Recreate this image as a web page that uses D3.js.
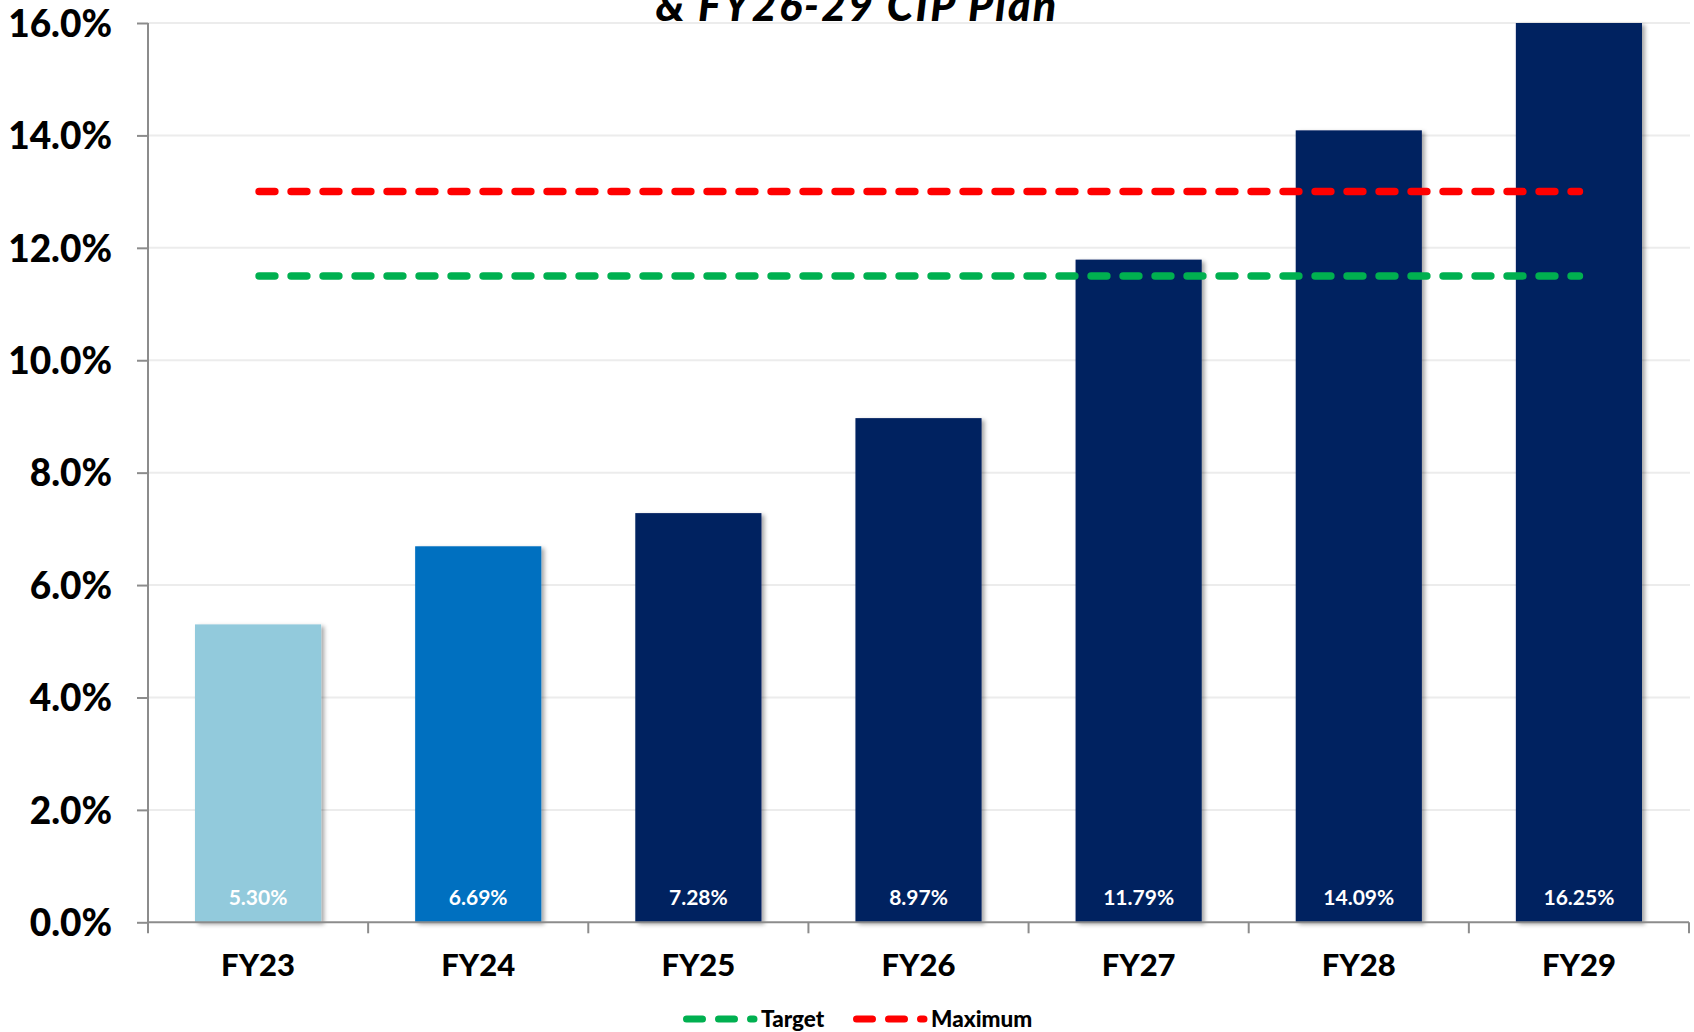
<!DOCTYPE html>
<html><head><meta charset="utf-8">
<script src="https://cdn.jsdelivr.net/npm/d3@7"></script>
<style>
html,body{margin:0;padding:0;background:#fff;}
svg{display:block;font-family:Lato,"Liberation Sans",sans-serif;}
</style></head>
<body><svg id="c" width="1694" height="1032"></svg>
<script>
const categories = ["FY23","FY24","FY25","FY26","FY27","FY28","FY29"];
const ratioValues = [5.30, 6.69, 7.28, 8.97, 11.79, 14.09, 16.25];
const valueLabels = ["5.30%","6.69%","7.28%","8.97%","11.79%","14.09%","16.25%"];
const barColors = ["#92CADC","#0070C0","#002060","#002060","#002060","#002060","#002060"];
const targetValue = 11.5;
const maximumValue = 13.0;
const yTicks = [0,2,4,6,8,10,12,14,16];
const titleText = "& FY26-29 CIP Plan";

const svg = d3.select("#c");
const L = 148, R = 1689, T = 23, B = 922.3;
const x = d3.scaleBand().domain(categories).range([L, R]).paddingInner(0.427).paddingOuter(0.2135);
const y = d3.scaleLinear().domain([0,16]).range([B, T]).clamp(true);

const defs = svg.append("defs");
const f = defs.append("filter").attr("id","sh").attr("x","-10%").attr("y","-5%").attr("width","130%").attr("height","115%");
f.append("feDropShadow").attr("dx",3).attr("dy",2).attr("stdDeviation",2).attr("flood-color","#000").attr("flood-opacity",0.35);

// title (clipped line)
svg.append("text").attr("x",857).attr("y",21).attr("text-anchor","middle")
  .attr("font-size",43).attr("font-weight",900).attr("font-style","italic").attr("letter-spacing",2.2)
  .attr("fill","#000").text(titleText);

// gridlines
svg.append("g").selectAll("line").data(yTicks.filter(d=>d>0)).join("line")
  .attr("x1",L).attr("x2",R+1).attr("y1",d=>y(d)).attr("y2",d=>y(d))
  .attr("stroke","#ECECEC").attr("stroke-width",2);

// bars
svg.append("g").selectAll("rect").data(categories).join("rect")
  .attr("x",d=>x(d)).attr("width",x.bandwidth())
  .attr("y",(d,i)=>y(ratioValues[i])).attr("height",(d,i)=>B-y(ratioValues[i]))
  .attr("fill",(d,i)=>barColors[i]).attr("filter","url(#sh)");

// value labels
svg.append("g").selectAll("text").data(categories).join("text")
  .attr("x",d=>x(d)+x.bandwidth()/2).attr("y",B-17)
  .attr("text-anchor","middle").attr("font-size",21).attr("font-weight",700).attr("fill","#fff")
  .text((d,i)=>valueLabels[i]);

// reference lines
const step = x.step();
const lx1 = x(categories[0]) + x.bandwidth()/2, lx2 = x(categories[categories.length-1]) + x.bandwidth()/2;
[[maximumValue,"#FF0000"],[targetValue,"#00B050"]].forEach(([v,c])=>{
  svg.append("line").attr("x1",lx1+1).attr("x2",lx2+0.5).attr("y1",y(v)).attr("y2",y(v))
    .attr("stroke",c).attr("stroke-width",7.5).attr("stroke-linecap","round")
    .attr("stroke-dasharray","15.8,16.2");
});

// y axis
const yAxis = svg.append("g").attr("transform",`translate(${L},0)`)
  .call(d3.axisLeft(y).tickValues(yTicks).tickSize(11).tickFormat(d=>d.toFixed(1)+"%"));
yAxis.select(".domain").attr("stroke","#8C8C8C").attr("stroke-width",2).attr("d",`M0,${T}V${B}`);
yAxis.selectAll(".tick line").attr("stroke","#8C8C8C").attr("stroke-width",2);
yAxis.selectAll(".tick text").attr("x",-36).attr("dy","0.36em").attr("font-size",37).attr("font-weight",900)
  .attr("fill","#000").attr("font-family","Lato, sans-serif");

// x axis
const xg = svg.append("g").attr("transform",`translate(0,${B})`);
xg.append("line").attr("x1",L).attr("x2",R).attr("stroke","#8C8C8C").attr("stroke-width",2);
const bounds = d3.range(categories.length+1).map(i=>L+i*step);
xg.selectAll(".tk").data(bounds).join("line").attr("class","tk")
  .attr("x1",d=>d).attr("x2",d=>d).attr("y1",0).attr("y2",11).attr("stroke","#8C8C8C").attr("stroke-width",2);
xg.selectAll(".xl").data(categories).join("text").attr("class","xl")
  .attr("x",d=>x(d)+x.bandwidth()/2).attr("y",54).attr("text-anchor","middle")
  .attr("font-size",31).attr("font-weight",900).attr("fill","#000").text(d=>d);

// legend
const legendItems = [["Target","#00B050",683],["Maximum","#FF0000",853]];
const lg = svg.append("g");
legendItems.forEach(([name,c,lx])=>{
  lg.append("line").attr("x1",lx+3.5).attr("x2",lx+71).attr("y1",1019).attr("y2",1019)
    .attr("stroke",c).attr("stroke-width",7).attr("stroke-linecap","round").attr("stroke-dasharray","16,16");
  lg.append("text").attr("x",lx+78).attr("y",1027).attr("font-size",22.5).attr("font-weight",900)
    .attr("fill","#000").text(name);
});
</script></body></html>
